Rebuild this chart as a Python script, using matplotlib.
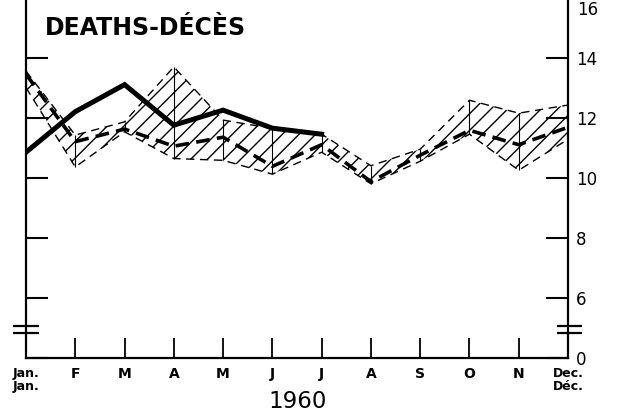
import matplotlib
matplotlib.use("Agg")
import matplotlib.pyplot as plt

# ---- data ----
months = ["Jan.\nJan.", "F", "M", "A", "M", "J", "J", "A", "S", "O", "N", "Dec.\nDéc."]
deaths_1960 = [10.85, 12.2, 13.1, 11.75, 12.25, 11.65, 11.45]          # Jan-Jul (solid)
deaths_mean = [13.45, 11.2, 11.62, 11.05, 11.35, 10.38, 11.1, 9.87, 10.75, 11.58, 11.1, 11.68]
deaths_high = [13.55, 11.42, 11.86, 13.69, 11.92, 11.64, 11.45, 10.4, 10.95, 12.58, 12.15, 12.42]
deaths_low = [13.0, 10.36, 11.53, 10.64, 10.58, 10.12, 10.85, 9.8, 10.55, 11.45, 10.25, 11.28]
ytick_vals = [4, 6, 8, 10, 12, 14]
ytick_labels = ["0", "6", "8", "10", "12", "14"]
top_label = "16"
title = "DEATHS-DÉCÈS"
year = "1960"

W, H = 622, 413
fig = plt.figure(figsize=(W / 100, H / 100), dpi=100)
ax = fig.add_axes([26 / W, 55 / H, (568 - 26) / W, 358 / H])

x_all = list(range(len(months)))
x_1960 = x_all[:len(deaths_1960)]

# hatched range band
ax.fill_between(x_all, deaths_low, deaths_high, facecolor="none", edgecolor="black",
                hatch="//", linewidth=0, zorder=1)
ax.plot(x_all, deaths_high, color="black", lw=1.0, ls=(0, (6, 4)), zorder=2)
ax.plot(x_all, deaths_low, color="black", lw=1.0, ls=(0, (6, 4)), zorder=2)
ax.vlines(x_all, deaths_low, deaths_high, color="black", lw=0.8, zorder=2)

# mean (thick dashed) and 1960 (thick solid)
ax.plot(x_all, deaths_mean, color="black", lw=2.6, ls=(0, (3.8, 2.0)), zorder=3)
ax.plot(x_1960, deaths_1960, color="black", lw=3.6, solid_joinstyle="miter", zorder=4)

ax.set_xlim(0, 11)
ax.set_ylim(4, 15.917)

for s in ["left", "right", "bottom"]:
    ax.spines[s].set_linewidth(1.6)
ax.spines["top"].set_visible(False)

ax.set_xticks(x_all)
ax.set_xticklabels(months)
ax.tick_params(axis="x", direction="in", length=14.5, width=1.3, pad=6.5,
               labelsize=10)
for i, lab in enumerate(ax.get_xticklabels()):
    if i in (0, len(months) - 1):
        lab.set_fontsize(9)
        lab.set_linespacing(0.95)
    lab.set_fontweight("bold")

ax.set_yticks(ytick_vals)
ax.set_yticklabels(ytick_labels)
ax.tick_params(axis="y", direction="in", length=15.5, width=1.5, left=True, right=True,
               labelleft=False, labelright=True, labelsize=12, pad=6)
fig.text(577 / W, 1 - 1 / H, top_label, fontsize=12, ha="left", va="top")

# axis break marks
dx = 0.255
for xc in (0, 11.03):
    for yb in (5.08, 4.82):
        ax.plot([xc - dx, xc + dx], [yb, yb], color="black", lw=1.6, clip_on=False,
                solid_capstyle="butt", zorder=5)

fig.text(45 / W, 1 - 28 / H, title, fontsize=17, fontweight="bold", ha="left", va="center")
fig.text(298 / W, 1 - 402 / H, year, fontsize=16.5, ha="center", va="center")

fig.savefig("out.png", dpi=100)
